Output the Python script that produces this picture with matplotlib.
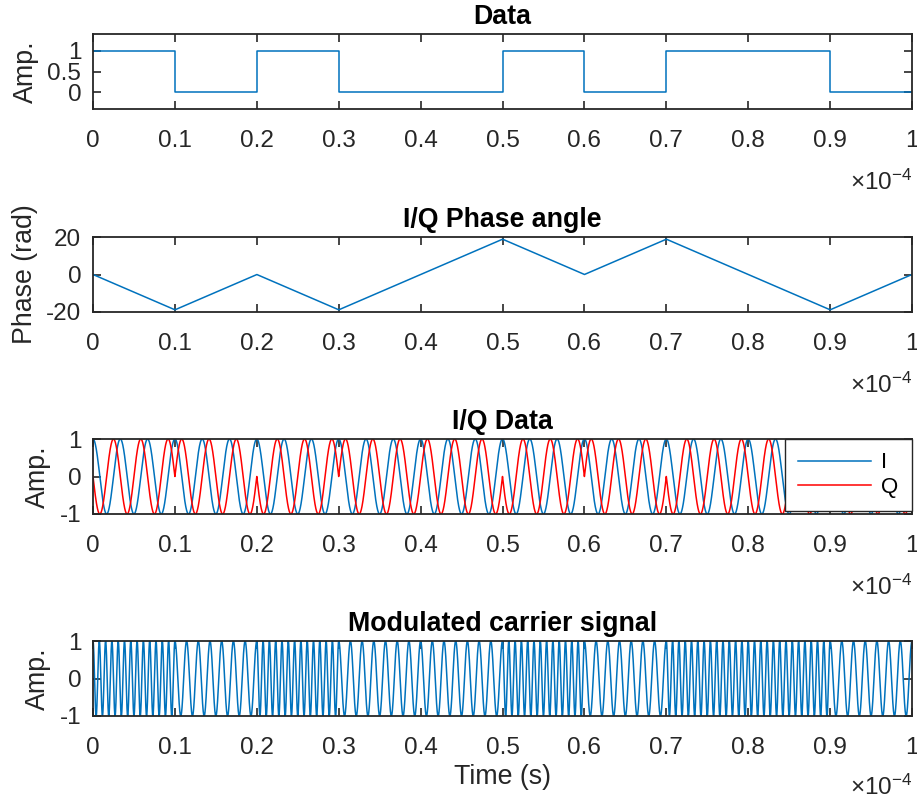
import numpy as np
import matplotlib
matplotlib.use("Agg")
import matplotlib.pyplot as plt

plt.rcParams['font.family'] = ['Liberation Sans', 'DejaVu Sans']
plt.rcParams['mathtext.fontset'] = 'custom'
plt.rcParams['mathtext.rm'] = 'Liberation Sans'
plt.rcParams['axes.unicode_minus'] = False

# Bit stream and modulation parameters
bits = [1, 0, 1, 0, 0, 1, 0, 1, 1, 0]
bit_time = 1e-5            # s per bit
carrier_freq = 1e6         # Hz
freq_dev = 3e5             # Hz (phase swing of 6*pi per bit)
samples_per_bit = 1000

x_ticks = [0, 0.1, 0.2, 0.3, 0.4, 0.5, 0.6, 0.7, 0.8, 0.9, 1]
x_ticklabels = ['0', '0.1', '0.2', '0.3', '0.4', '0.5', '0.6', '0.7', '0.8', '0.9', '1']
x_scale = 1e-4

blue = '#0072BD'
red = '#FF0000'
axis_col = '#262626'

# Time base
n_bits = len(bits)
t = np.linspace(0, n_bits * bit_time, n_bits * samples_per_bit + 1)

# Phase trajectory: bit 1 -> phase decreases, bit 0 -> phase increases
slopes = np.array([-1 if b == 1 else 1 for b in bits]) * 2 * np.pi * freq_dev * bit_time
edge_times = np.arange(n_bits + 1) * bit_time
edge_phase = np.concatenate([[0.0], np.cumsum(slopes)])
phase = np.interp(t, edge_times, edge_phase)

i_sig = np.cos(phase)
q_sig = np.sin(phase)
carrier = i_sig * np.cos(2 * np.pi * carrier_freq * t) + q_sig * np.sin(2 * np.pi * carrier_freq * t)

# Step representation of the data
step_t = edge_times
step_v = list(bits) + [bits[-1]]

fig = plt.figure(figsize=(9.17, 8.01), dpi=100)
W, H = 917, 801
left, right = 93, 912
tops = [34, 237, 439, 641]
height = 75

axes = []
for top in tops:
    ax = fig.add_axes([left / W, 1 - (top + height) / H, (right - left) / W, height / H])
    axes.append(ax)

fs_tick = 17.5
fs_label = 19.3
lw = 1.1

def style(ax, yticks, ylim, ylabel, title, exp_drop=58):
    ax.set_xlim(0, 1)
    ax.set_ylim(*ylim)
    ax.set_xticks(x_ticks)
    ax.set_xticklabels(x_ticklabels)
    ax.set_yticks(yticks)
    ax.set_yticklabels([('%g' % v) for v in yticks])
    ax.tick_params(direction='in', length=6, width=1.2, colors=axis_col,
                   labelsize=fs_tick, top=True, right=True)
    ax.tick_params(axis='x', pad=15)
    ax.tick_params(axis='y', pad=8.5)
    for s in ax.spines.values():
        s.set_color(axis_col)
        s.set_linewidth(1.3)
    ax.set_ylabel(ylabel, fontsize=fs_label, color=axis_col, labelpad=6)
    ax.set_title(title, fontsize=fs_label, fontweight='bold', pad=7.5)
    ax.annotate(r'$\times\mathregular{10^{-4}}$', xy=(1, 0), xycoords='axes fraction',
                xytext=(0, -exp_drop), textcoords='offset points', ha='right', va='baseline',
                fontsize=fs_tick, color=axis_col)

ax1, ax2, ax3, ax4 = axes

ax1.step(step_t / x_scale, step_v, where='post', color=blue, lw=lw)
style(ax1, [0, 0.5, 1], (-0.4, 1.4), 'Amp.', 'Data')

ax2.plot(t / x_scale, phase, color=blue, lw=lw)
style(ax2, [-20, 0, 20], (-20, 20), 'Phase (rad)', 'I/Q Phase angle')

ax3.plot(t / x_scale, i_sig, color=blue, lw=lw, label='I')
ax3.plot(t / x_scale, q_sig, color=red, lw=lw, label='Q')
style(ax3, [-1, 0, 1], (-1, 1), 'Amp.', 'I/Q Data')
leg = ax3.legend(loc='upper right', fontsize=16, handlelength=3.3, handletextpad=0.45,
                 labelspacing=0.15, borderpad=0.6, borderaxespad=0.0,
                 fancybox=False, framealpha=1, edgecolor=axis_col)
leg.get_frame().set_linewidth(1.0)

ax4.plot(t / x_scale, carrier, color=blue, lw=lw)
style(ax4, [-1, 0, 1], (-1, 1), 'Amp.', 'Modulated carrier signal', exp_drop=57)
ax4.set_xlabel('Time (s)', fontsize=fs_label, color=axis_col, labelpad=4)

fig.savefig('out.png', dpi=100)
